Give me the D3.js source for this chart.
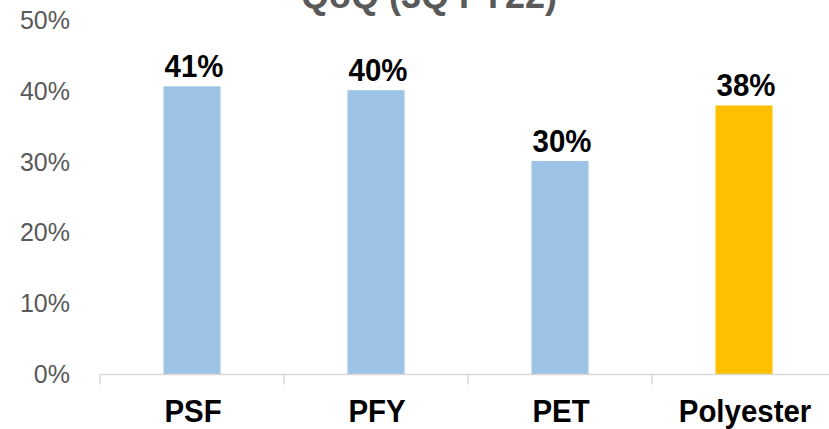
<!DOCTYPE html>
<html>
<head>
<meta charset="utf-8">
<script src="https://cdn.jsdelivr.net/npm/d3@7"></script>
<style>
  body { margin: 0; background: #fff; }
  svg { display: block; }
</style>
</head>
<body>
<svg width="829" height="429"></svg>
<script>
// chart data
var categories = ['PSF', 'PFY', 'PET', 'Polyester'];
var values = [0.407, 0.4015, 0.3015, 0.38];
var valueLabels = ['41%', '40%', '30%', '38%'];
var barColors = ['#9DC3E6', '#9DC3E6', '#9DC3E6', '#FFC000'];
var yTicks = [0, 0.1, 0.2, 0.3, 0.4, 0.5];
var title = 'QoQ (3Q FY22)';

var svg = d3.select('svg');

var x = d3.scaleBand().domain(categories).range([100, 836]).paddingInner(0.69).paddingOuter(0.345);
var y = d3.scaleLinear().domain([0, 0.5]).range([374.5, 20.5]);

// title (cut off at the top like the original)
svg.append('text').attr('x', 429).attr('y', 8).attr('text-anchor', 'middle')
  .attr('font-family', 'Liberation Sans, Arial, sans-serif').attr('font-weight', 'bold')
  .attr('font-size', 36).attr('fill', '#595959').text(title);

// y axis labels, no line
var yAxis = d3.axisLeft(y).tickValues(yTicks).tickSize(0).tickPadding(0).tickFormat(d3.format('.0%'));
var gy = svg.append('g').attr('transform', 'translate(70,0)').call(yAxis);
gy.select('.domain').remove();
gy.selectAll('text').attr('font-family', 'Liberation Sans, Arial, sans-serif')
  .attr('font-size', 25).attr('fill', '#595959');

// bars
svg.selectAll('rect.bar').data(categories).enter().append('rect').attr('class', 'bar')
  .attr('x', function(d) { return x(d); })
  .attr('y', function(d, i) { return y(values[i]); })
  .attr('width', x.bandwidth())
  .attr('height', function(d, i) { return y(0) - y(values[i]); })
  .attr('fill', function(d, i) { return barColors[i]; });

// x axis line + ticks between categories
var step = x.step();
var x0 = x.range()[0];
svg.append('line').attr('x1', x0).attr('x2', x.range()[1]).attr('y1', y(0)).attr('y2', y(0))
  .attr('stroke', '#d9d9d9').attr('stroke-width', 1.5);
svg.selectAll('line.tk').data(d3.range(categories.length + 1)).enter().append('line').attr('class', 'tk')
  .attr('x1', function(d) { return x0 + d * step; }).attr('x2', function(d) { return x0 + d * step; })
  .attr('y1', y(0)).attr('y2', y(0) + 10)
  .attr('stroke', '#d9d9d9').attr('stroke-width', 1.5);

// bold labels are a bit narrow and tall in the original
function boldLabel(sel) {
  sel.attr('text-anchor', 'middle')
    .attr('font-family', 'Liberation Sans, Arial, sans-serif').attr('font-weight', 'bold')
    .attr('font-size', 32).attr('fill', '#000');
}

// category labels
svg.selectAll('text.cat').data(categories).enter().append('text').attr('class', 'cat')
  .attr('transform', function(d) { return 'translate(' + (x(d) + x.bandwidth() / 2 + 1) + ',422) scale(0.92,1)'; })
  .call(boldLabel).text(function(d) { return d; });

// value labels
svg.selectAll('text.val').data(categories).enter().append('text').attr('class', 'val')
  .attr('transform', function(d, i) { return 'translate(' + (x(d) + x.bandwidth() / 2 + 2) + ',' + (y(values[i]) - 9) + ') scale(0.92,1)'; })
  .call(boldLabel).text(function(d, i) { return valueLabels[i]; });
</script>
</body>
</html>
